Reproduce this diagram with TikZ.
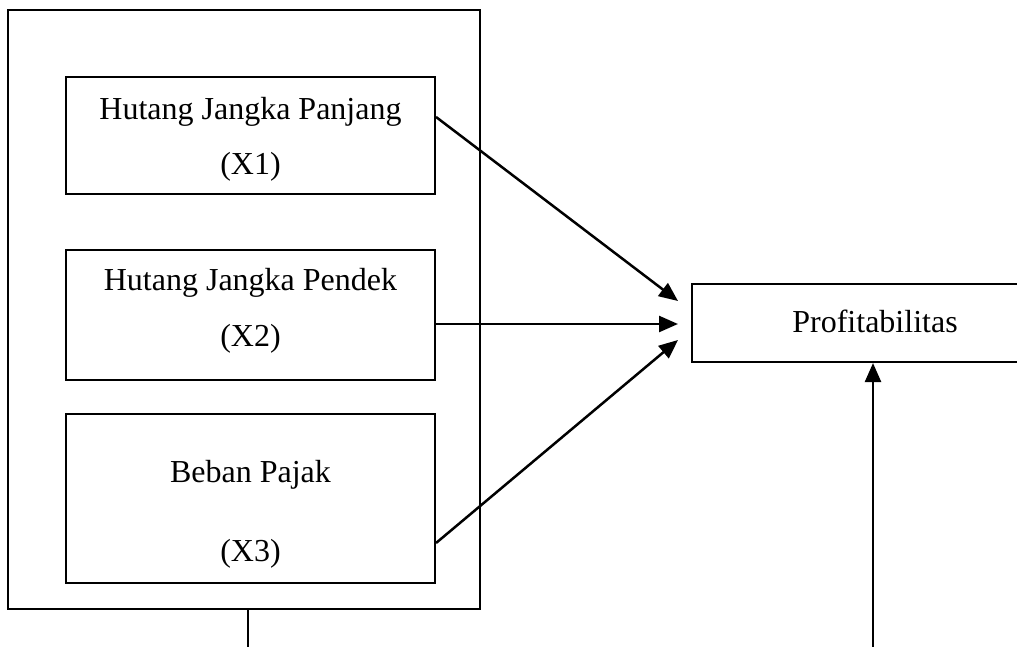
\documentclass[tikz,border=0pt]{standalone}
\usepackage{fontspec}
\setmainfont{Liberation Serif}
\usetikzlibrary{arrows.meta}
\begin{document}
\begin{tikzpicture}[x=1pt,y=-1pt,
  outerbox/.style={draw,line width=2.4pt,inner sep=0pt,minimum width=472pt,minimum height=599pt},
  varbox/.style={draw,line width=2.1pt,inner sep=0pt,minimum width=369pt},
  lbl/.style={anchor=base,inner sep=0pt,font=\fontsize{32}{36}\selectfont},
  conn/.style={line width=2.5pt,-{Triangle[length=19pt,width=16pt]}},
  plain/.style={line width=2.5pt}]
\useasboundingbox (0,0) rectangle (1017,647);
\clip (0,0) rectangle (1017,647);
\node[outerbox] (outer) at (244,309.5) {};
\node[varbox,minimum height=117pt] (x1) at (250.5,135.5) {};
\node[varbox,minimum height=130pt] (x2) at (250.5,315) {};
\node[varbox,minimum height=169pt] (x3) at (250.5,498.5) {};
\node[draw,line width=2.1pt,inner sep=0pt,minimum width=338pt,minimum height=78pt] (profit) at (861,323) {};
\node[lbl] (t1a) at (250.5,120) {Hutang Jangka Panjang};
\node[lbl] (t1b) at (250.5,175) {(X1)};
\node[lbl] (t2a) at (250.5,290) {Hutang Jangka Pendek};
\node[lbl] (t2b) at (250.5,346) {(X2)};
\node[lbl] (t3a) at (250.5,482) {Beban Pajak};
\node[lbl] (t3b) at (250.5,561) {(X3)};
\node[lbl] (tp) at (875,332) {Profitabilitas};
\coordinate (s1) at (x1.east |- 0,117);
\coordinate (s2) at (x2.east |- 0,324);
\coordinate (s3) at (x3.east |- 0,543);
\coordinate (e1) at (678,301);
\coordinate (e2) at (678,324);
\coordinate (e3) at (678,340);
\draw[conn] (s1) -- (e1);
\draw[conn] (s2) -- (e2);
\draw[conn] (s3) -- (e3);
\coordinate (b1) at (248,647);
\draw[plain] (outer.south -| b1) -- (b1);
\coordinate (b2) at (873,647);
\draw[conn] (b2) -- (b2 |- profit.south);
\end{tikzpicture}
\end{document}
